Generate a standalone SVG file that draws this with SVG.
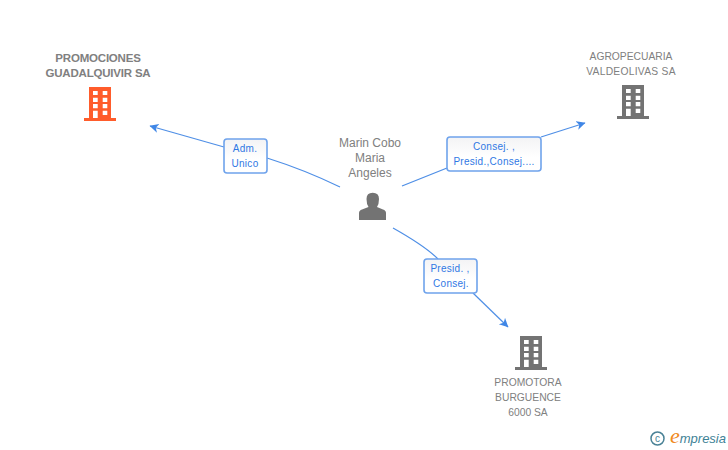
<svg xmlns="http://www.w3.org/2000/svg" xmlns:xlink="http://www.w3.org/1999/xlink" width="728" height="450" viewBox="0 0 728 450">
<style>
text{font-family:"Liberation Sans",Arial,sans-serif;text-anchor:middle}
.n{font-size:10.300px;fill:#808080}
.p{font-size:12px}
.b{font-size:11.500px;font-weight:bold;letter-spacing:-.2px}
.e{font-size:10px;fill:#2f78e4;letter-spacing:.28px}
.box{fill:url(#g);stroke:#6fa3ec;stroke-width:1.6}
.c{fill:none;stroke:#4f8fe6;stroke-width:1.200}
</style>
<defs>
<linearGradient id="g" x1="0" y1="0" x2="0" y2="1"><stop offset="0" stop-color="#f3f3f5"/><stop offset=".6" stop-color="#fff"/></linearGradient>
<marker id="a" markerWidth="12" markerHeight="12" refX="8.500" refY="4.500" orient="auto" markerUnits="userSpaceOnUse"><path d="M0 0L9 4.500L0 9L2.500 4.500Z" fill="#3f86e6"/></marker>
<path id="bld" fill-rule="evenodd" d="M5 0H27V31H32V34H0V31H5ZM9 4V8H13.700V4ZM18.700 4V8H23.300V4ZM9 10.700V15H13.700V10.700ZM18.700 10.700V15H23.300V10.700ZM9 17V21.300H13.700V17ZM18.700 17V21.300H23.300V17ZM9 23.700V31H13.700V23.700ZM18.700 23.700V28H23.300V23.700Z"/>
</defs>
<g id="connectors">
<path class="c" d="M340 187Q305 170 267 158"/>
<path class="c" marker-end="url(#a)" d="M224 147L150 126"/>
<path class="c" d="M402 186L447 168"/>
<path class="c" marker-end="url(#a)" d="M541 137L585 123"/>
<path class="c" d="M393 228Q425 246 438 259"/>
<path class="c" marker-end="url(#a)" d="M473 293L508 327"/>
</g>
<g id="node-promociones">
<text class="b" x="98" y="62" fill="#808080">PROMOCIONES</text>
<text class="b" x="98" y="77" fill="#808080">GUADALQUIVIR SA</text>
<use xlink:href="#bld" href="#bld" x="84" y="87" fill="#ff5c2b"/>
</g>
<g id="node-agropecuaria">
<text class="n" x="631" y="60">AGROPECUARIA</text>
<text class="n" x="631" y="75" letter-spacing=".25">VALDEOLIVAS SA</text>
<use xlink:href="#bld" href="#bld" x="617" y="85" fill="#737373"/>
</g>
<g id="node-promotora">
<use xlink:href="#bld" href="#bld" x="515" y="336" fill="#737373"/>
<text class="n" x="528" y="386">PROMOTORA</text>
<text class="n" x="528" y="401">BURGUENCE</text>
<text class="n" x="528" y="416">6000 SA</text>
</g>
<g id="node-person">
<text class="n p" x="370" y="147">Marin Cobo</text>
<text class="n p" x="370" y="162">Maria</text>
<text class="n p" x="370" y="177">Angeles</text>
<path fill="#737373" d="M359 220V213Q359 210.500 362 209.500L368.500 207Q366.500 204 366.500 199Q366.500 192.800 372.700 192.800Q379 192.800 379 199Q379 204 377 207L383 209.500Q386 210.500 386 213V220Z"/>
</g>
<g id="label-adm">
<rect class="box" x="224" y="139" width="43" height="34" rx="3"/>
<text class="e" x="245" y="152">Adm.</text>
<text class="e" x="245" y="167">Unico</text>
</g>
<g id="label-consej">
<rect class="box" x="447" y="137" width="94" height="34" rx="3"/>
<text class="e" x="494" y="150">Consej. ,</text>
<text class="e" x="494" y="165">Presid.,Consej....</text>
</g>
<g id="label-presid">
<rect class="box" x="424" y="259" width="53" height="34" rx="3"/>
<text class="e" x="450" y="272">Presid. ,</text>
<text class="e" x="451" y="287">Consej.</text>
</g>
<g id="logo">
<circle cx="657.500" cy="438.500" r="6.500" fill="none" stroke="#4a8296" stroke-width="1.500"/>
<text x="657.500" y="441.500" style="font-size:10px;fill:#4a8296">c</text>
<text x="726" y="443" style="text-anchor:end;font-size:13px;font-style:italic;fill:#3e8296"><tspan style="font-size:22px;fill:#f08a1d;font-family:'Liberation Serif',serif">e</tspan>mpresia</text>
</g>
</svg>
